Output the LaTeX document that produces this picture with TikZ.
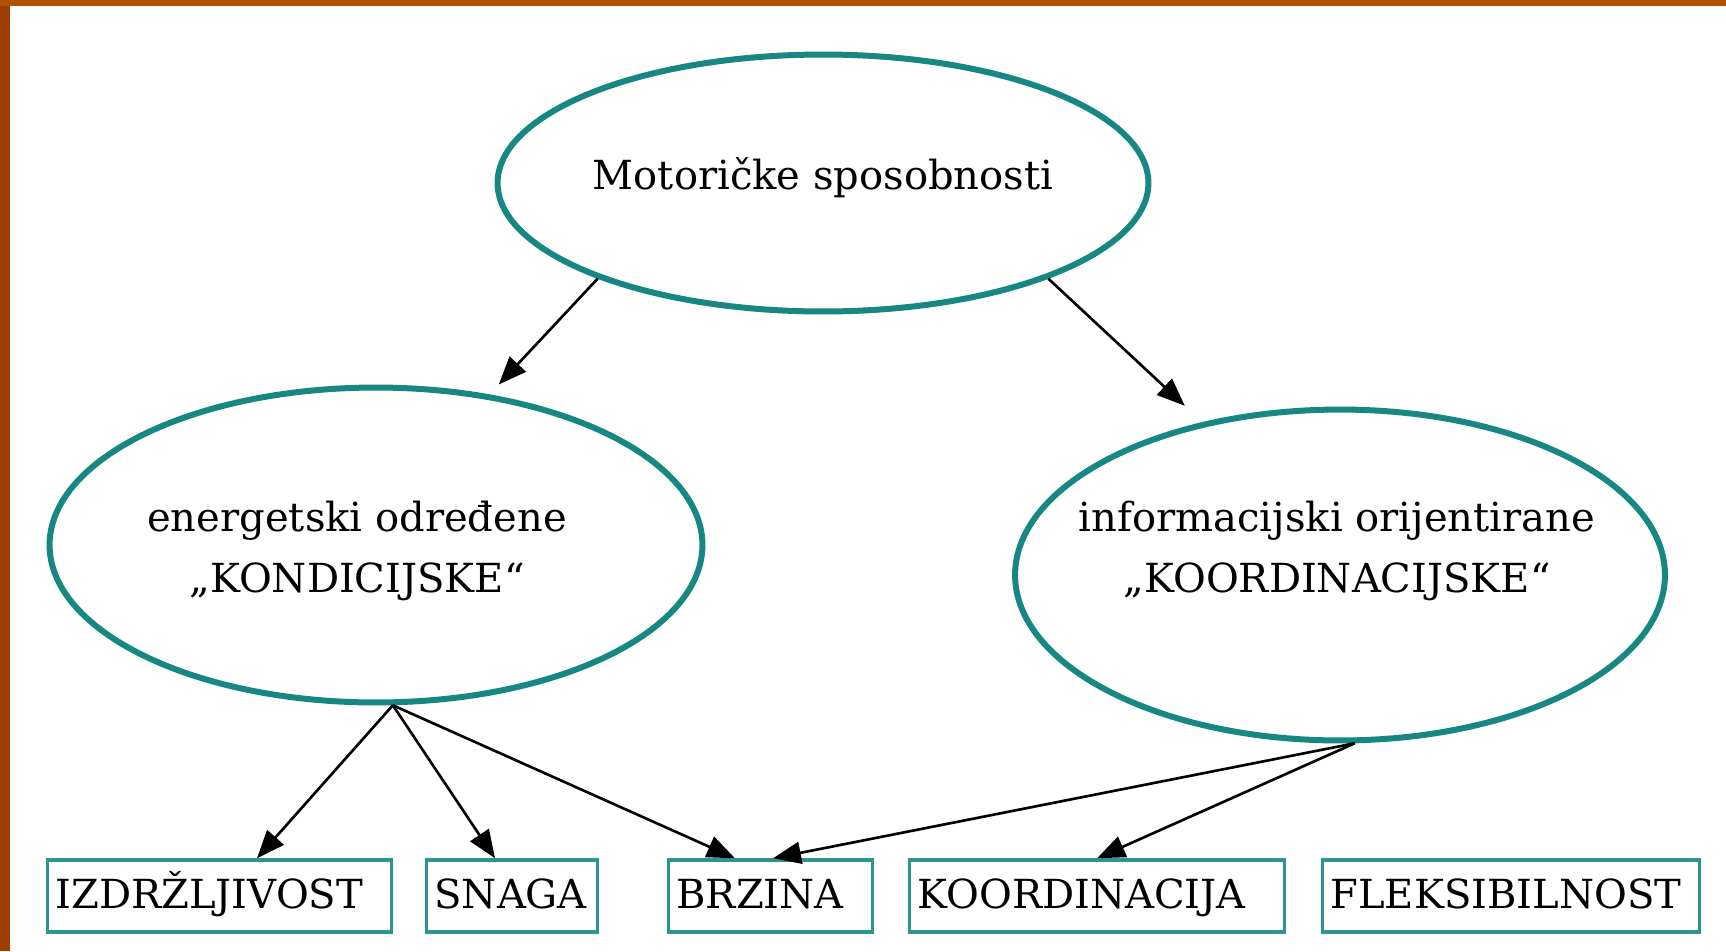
\documentclass[tikz,border=0pt]{standalone}
\usepackage{fontspec}
\setmainfont{DejaVu Serif}
\usepackage{tikz}
\usetikzlibrary{arrows.meta,shapes.geometric}

\definecolor{slideorange}{RGB}{178,82,0}
\definecolor{frameleft}{RGB}{160,62,0}
\definecolor{ovalteal}{RGB}{22,135,130}
\definecolor{boxteal}{RGB}{45,148,146}

\begin{document}
\begin{tikzpicture}[
    x=0.02cm, y=-0.02cm,
    font=\fontsize{22.8}{35}\selectfont,
    oval/.style={ellipse, draw=ovalteal, line width=0.12cm, inner sep=0pt},
    box/.style={rectangle, draw=boxteal, line width=0.07cm, minimum height=1.44cm, inner xsep=0.16cm, inner ysep=0pt, text height=1.4em, text depth=0pt, align=left},
    arrow/.style={-{Triangle[length=5.6mm, width=4.4mm]}, line width=1.5pt}
]
\useasboundingbox (0,0) rectangle (1726,951);
% slide frame
\fill[slideorange] (0,0) rectangle (1726,951);
\fill[frameleft] (0,6) rectangle (10,951);
\fill[white] (10,6) rectangle (1726,951);
% ovals
\node[oval, minimum width=13.02cm, minimum height=5.14cm] (motor) at (823,183) {};
\node[oval, minimum width=13.06cm, minimum height=6.3cm] (kond) at (376,545) {};
\node[oval, minimum width=13.0cm, minimum height=6.62cm] (koord) at (1340,575) {};
\node (motortxt) at (823,178) {Motoričke sposobnosti};
\node[align=center] (kondtxt) at (357,551) {energetski određene\\„KONDICIJSKE“};
\node[align=center] (koordtxt) at (1337,551) {informacijski orijentirane\\„KOORDINACIJSKE“};
% boxes
\node[box, text width=6.56cm] (izdr) at (219.5,896) {IZDRŽLJIVOST};
\node[box, text width=3.10cm] (snaga) at (512,896) {SNAGA};
\node[box, text width=3.76cm] (brzina) at (770.5,896) {BRZINA};
\node[box, text width=7.18cm] (koordin) at (1097,896) {KOORDINACIJA};
\node[box, text width=7.22cm] (fleks) at (1511,896) {FLEKSIBILNOST};
% arrows
\draw[arrow, shorten >=0.27cm] (motor.203) -- (kond.53);
\draw[arrow, shorten >=0.48cm] (motor.337) -- (koord.132);
\draw[arrow] (kond.276) -- ([xshift=0.75cm]izdr.north);
\draw[arrow] (kond.276) -- ([xshift=-0.34cm]snaga.north);
\draw[arrow] (kond.276) -- ([xshift=-0.71cm]brzina.north);
\draw[arrow] (koord.275) -- ([xshift=0.05cm]brzina.north);
\draw[arrow] (koord.275) -- (koordin.north);
\end{tikzpicture}
\end{document}
